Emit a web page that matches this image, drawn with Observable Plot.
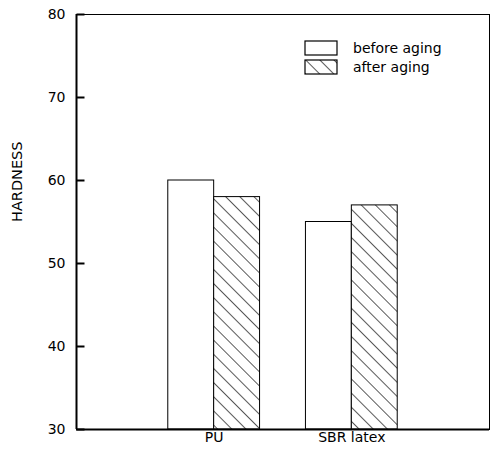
<!DOCTYPE html>
<html><head><meta charset="utf-8">
<script src="https://cdn.jsdelivr.net/npm/d3@7"></script>
<script src="https://cdn.jsdelivr.net/npm/@observablehq/plot@0.6"></script>
<style>
body{margin:0;background:#fff;}
#wrap{position:relative;width:490px;height:460px;}
#legend{position:absolute;left:0;top:0;}
</style>
</head><body><div id="wrap"></div>
<script>
const categories = ["PU", "SBR latex"];
const seriesNames = ["before aging", "after aging"];
const beforeAging = [60, 55];
const afterAging = [58, 57];
const yTicks = [30, 40, 50, 60, 70, 80];
const yLabel = "HARDNESS";

const W = 490, H = 460, mL = 76, mR = 1, mT = 14, mB = 31;
const xDomain = [0, 3];
const barW = 1 / 3;
const tickLen = 8 * (xDomain[1] - xDomain[0]) / (W - mL - mR);
const rows = categories.map((c, i) => ({cat: c, pos: i + 1, before: beforeAging[i], after: afterAging[i]}));
const tickRows = yTicks.map(v => ({v, a: xDomain[0], b: xDomain[0] + tickLen}));
const font = "'DejaVu Sans', sans-serif";

const chart = Plot.plot({
  width: W, height: H,
  marginLeft: mL, marginRight: mR, marginTop: mT, marginBottom: mB,
  style: {fontFamily: font, fontSize: "14px", color: "black", background: "white"},
  x: {domain: xDomain},
  y: {domain: [yTicks[0], yTicks[yTicks.length - 1]]},
  marks: [
    Plot.rectY(rows, {x1: d => d.pos - barW, x2: d => d.pos, y1: yTicks[0], y2: "before", fill: "white", stroke: "black", strokeWidth: 1}),
    Plot.rectY(rows, {x1: d => d.pos, x2: d => d.pos + barW, y1: yTicks[0], y2: "after", fill: "url(#hatch)", stroke: "black", strokeWidth: 1}),
    Plot.frame({stroke: "black", strokeWidth: 1}),
    Plot.ruleX([xDomain[0]], {stroke: "black", strokeWidth: 2}),
    Plot.ruleY([yTicks[0]], {stroke: "black", strokeWidth: 2}),
    Plot.link(tickRows, {x1: "a", x2: "b", y1: "v", y2: "v", stroke: "black", strokeWidth: 2}),
    Plot.axisY({ticks: yTicks, tickSize: 0, tickPadding: 11, label: null}),
    Plot.axisX({ticks: rows.map(d => d.pos), tickFormat: p => categories[p - 1], tickSize: 0, tickPadding: 3, label: null}),
    Plot.text([yLabel], {frameAnchor: "left", dx: -59, rotate: -90, fontSize: 14.5, fill: "black"})
  ]
});

// hatch pattern
const ns = "http://www.w3.org/2000/svg";
function addPattern(svg, id) {
  const defs = document.createElementNS(ns, "defs");
  const pat = document.createElementNS(ns, "pattern");
  pat.setAttribute("id", id);
  pat.setAttribute("patternUnits", "userSpaceOnUse");
  pat.setAttribute("width", "10");
  pat.setAttribute("height", "10");
  pat.setAttribute("patternTransform", "rotate(-45)");
  const bg = document.createElementNS(ns, "rect");
  bg.setAttribute("width", "10"); bg.setAttribute("height", "10"); bg.setAttribute("fill", "white");
  const ln = document.createElementNS(ns, "line");
  ln.setAttribute("x1", "0"); ln.setAttribute("y1", "0");
  ln.setAttribute("x2", "0"); ln.setAttribute("y2", "10");
  ln.setAttribute("stroke", "black"); ln.setAttribute("stroke-width", "1.3");
  pat.appendChild(bg); pat.appendChild(ln);
  defs.appendChild(pat);
  svg.insertBefore(defs, svg.firstChild);
}
addPattern(chart, "hatch");

const wrap = document.getElementById("wrap");
wrap.appendChild(chart);

// legend overlay
const leg = d3.create("svg").attr("id", "legend").attr("width", W).attr("height", 90)
  .style("font-family", font).style("font-size", "14px");
addPattern(leg.node(), "hatchLeg");
const legFills = ["white", "url(#hatchLeg)"];
const g = leg.selectAll("g").data(seriesNames).join("g")
  .attr("transform", (d, i) => `translate(305,${41 + i * 19})`);
g.append("rect").attr("width", 32).attr("height", 14)
  .attr("fill", (d, i) => legFills[i]).attr("stroke", "black").attr("stroke-width", 1.2);
g.append("text").attr("x", 48).attr("y", 12).text(d => d).attr("fill", "black");
wrap.appendChild(leg.node());
</script>
</body></html>
